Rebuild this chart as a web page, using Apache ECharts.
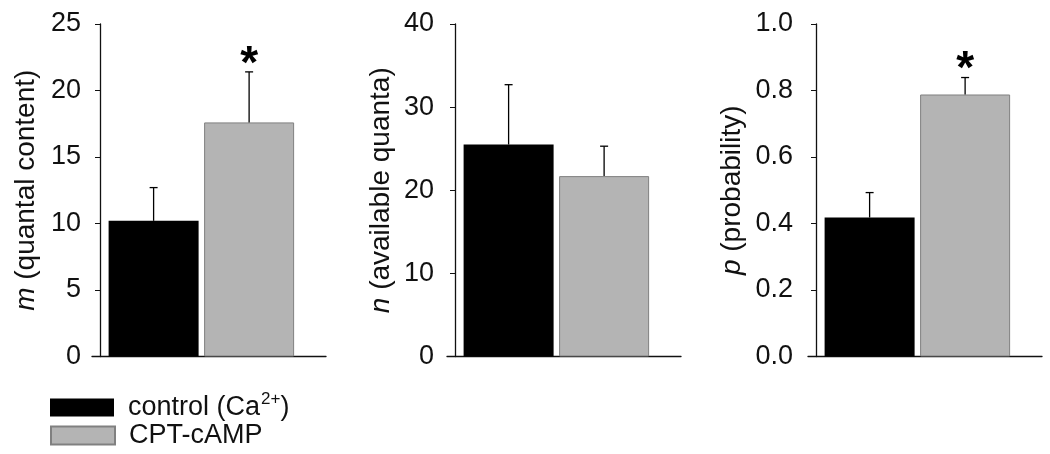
<!DOCTYPE html>
<html>
<head>
<meta charset="utf-8">
<script src="https://cdn.jsdelivr.net/npm/echarts@6/dist/echarts.min.js"></script>
<style>
  html, body { margin: 0; padding: 0; background: #fff; }
  #chart { width: 1050px; height: 454px; }
</style>
</head>
<body>
<div id="chart"></div>
<script>
// groups (legend)
const groups = ['control', 'CPT-cAMP']

// m (quantal content)
const mMean = [10.2, 17.6]
const mErr = [2.5, 3.8]
const mSig = [0, 1]
// n (available quanta)
const nMean = [25.5, 21.7]
const nErr = [7.2, 3.6]
const nSig = [0, 0]
// p (probability)
const pMean = [0.418, 0.788]
const pErr = [0.075, 0.051]
const pSig = [0, 1]

// axes
const axisMax = [25, 40, 1.0]
const axisStep = [5, 10, 0.2]
const axisNames = ['{i|m} (quantal content)', '{i|n} (available quanta)', '{i|p} (probability)']

const FONT = 'Liberation Sans, Arial, sans-serif'
const barColors = ['#000000', '#b4b4b4']
const gridLeft = [92, 447, 808]
const nameGap = [60, 60, 70]
const labelMargin = [19, 21, 23]
const legendTop = [391, 422]

const panels = [
  { mean: mMean, err: mErr, sig: mSig },
  { mean: nMean, err: nErr, sig: nSig },
  { mean: pMean, err: pErr, sig: pSig }
]

function errorItem(params, api) {
  const x = api.value(0)
  const y = api.value(1)
  const e = api.value(2)
  const s = api.value(3)
  const base = api.coord([x, y])
  const top = api.coord([x, y + e])
  const st = { stroke: '#000', lineWidth: 1.3 }
  const children = [
    { type: 'line', shape: { x1: base[0], y1: base[1], x2: top[0], y2: top[1] }, style: st },
    { type: 'line', shape: { x1: top[0] - 4, y1: top[1], x2: top[0] + 4, y2: top[1] }, style: st }
  ]
  if (s) {
    children.push({
      type: 'text',
      x: top[0],
      y: top[1] - 7,
      style: { text: '*', fontSize: 46, fontWeight: 'bold', fontFamily: FONT, align: 'center', verticalAlign: 'middle', fill: '#000' }
    })
  }
  return { type: 'group', children: children }
}

const grid = []
const xAxis = []
const yAxis = []
const series = []

panels.forEach(function (p, i) {
  grid.push({ left: gridLeft[i], top: 24, width: 234, height: 332.5 })
  xAxis.push({
    gridIndex: i,
    type: 'value',
    min: -0.645,
    max: 1.805,
    axisLine: { show: true, onZero: false, lineStyle: { color: '#111', width: 1.3 } },
    axisTick: { show: false },
    axisLabel: { show: false },
    splitLine: { show: false }
  })
  yAxis.push({
    gridIndex: i,
    type: 'value',
    min: 0,
    max: axisMax[i],
    interval: axisStep[i],
    offset: -8,
    name: axisNames[i],
    nameLocation: 'middle',
    nameGap: nameGap[i],
    nameTextStyle: {
      fontSize: 28,
      fontFamily: FONT,
      color: '#111',
      rich: { i: { fontStyle: 'italic', fontSize: 28, fontFamily: FONT, color: '#111' } }
    },
    axisLine: { show: true, onZero: false, lineStyle: { color: '#111', width: 1.3 } },
    axisTick: { show: true, inside: false, length: 5, lineStyle: { color: '#111', width: 1 } },
    axisLabel: {
      fontSize: 27,
      fontFamily: FONT,
      color: '#111',
      margin: labelMargin[i],
      formatter: i === 2 ? function (v) { return v.toFixed(1) } : '{value}'
    },
    splitLine: { show: false }
  })
  groups.forEach(function (g, k) {
    series.push({
      name: g,
      type: 'bar',
      xAxisIndex: i,
      yAxisIndex: i,
      barWidth: 90,
      barGap: '-100%',
      itemStyle: {
        color: barColors[k],
        borderColor: k === 1 ? '#808080' : '#000',
        borderWidth: k === 1 ? 1 : 0
      },
      data: [[k, p.mean[k]]],
      animation: false
    })
  })
  series.push({
    type: 'custom',
    xAxisIndex: i,
    yAxisIndex: i,
    renderItem: errorItem,
    encode: { x: 0, y: 1 },
    data: groups.map(function (g, k) { return [k, p.mean[k], p.err[k], p.sig[k]] }),
    z: 5,
    animation: false
  })
})

const legend = groups.map(function (g, k) {
  return {
    data: [g],
    left: 50,
    top: legendTop[k],
    padding: 0,
    itemWidth: 64,
    itemHeight: 18,
    icon: 'rect',
    formatter: function (name) {
      return name === 'control' ? 'control (Ca{sup|2+})' : name
    },
    textStyle: {
      fontSize: 27,
      fontFamily: FONT,
      color: '#111',
      padding: [0, 0, 0, 9],
      rich: {
        sup: { fontSize: 17, fontFamily: FONT, color: '#111', verticalAlign: 'top', padding: [0, 0, 16, 1] }
      }
    }
  }
})

const chart = echarts.init(document.getElementById('chart'))
chart.setOption({
  animation: false,
  grid: grid,
  xAxis: xAxis,
  yAxis: yAxis,
  legend: legend,
  series: series
})
</script>
</body>
</html>
